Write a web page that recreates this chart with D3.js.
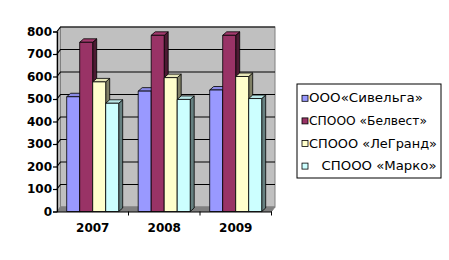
<!DOCTYPE html>
<html>
<head>
<meta charset="utf-8">
<script src="https://cdn.jsdelivr.net/npm/d3@7"></script>
<style>
  body { margin: 0; background: #fff; }
</style>
</head>
<body>
<div id="chart"></div>
<script>
// --- data ---
const categories = ["2007", "2008", "2009"];
const series = ["ООО«Сивельга»", "СПООО «Белвест»", "СПООО «ЛеГранд»", "СПООО  «Марко»"];
const values = [
  [510, 535, 540],   // Сивельга
  [752, 783, 783],   // Белвест
  [576, 595, 600],   // ЛеГранд
  [481, 498, 502]    // Марко
];
const yTicks = [0, 100, 200, 300, 400, 500, 600, 700, 800];

const colors = ["#9999ff", "#993366", "#ffffcc", "#ccffff"];
const sideColors = ["#4d4d80", "#4d1a33", "#808066", "#668080"];
const topColors = ["#8a8ae6", "#a33a6e", "#e6e6b8", "#b8e6e6"];

// --- layout ---
const W = 449, H = 260;
const svg = d3.select("#chart").append("svg")
  .attr("width", W).attr("height", H)
  .style("font-family", "'DejaVu Sans', sans-serif");

const x0 = d3.scaleBand().domain(categories).range([57, 271.5]);
const x1 = d3.scaleBand().domain(series).range([9.7, 61.7]);
const y = d3.scaleLinear().domain([0, 800]).range([211.5, 31.5]);

const wdx = 3.5, wdy = -4.5;   // wall depth
const bdx = 4, bdy = -3.5;     // bar depth
const left = x0.range()[0], right = x0.range()[1];
const y0 = y(0), yTop = y(800);

// --- walls and floor ---
svg.append("polygon")
  .attr("points", [[left, y0], [left, yTop], [left + wdx, yTop + wdy], [left + wdx, y0 + wdy]].join(" "))
  .attr("fill", "#c0c0c0").attr("stroke", "#808080");

svg.append("rect")
  .attr("x", left + wdx).attr("y", yTop + wdy)
  .attr("width", right - left).attr("height", y0 - yTop)
  .attr("fill", "#c0c0c0").attr("stroke", "#808080");

svg.append("polygon")
  .attr("points", [[left, y0], [right, y0], [right + wdx, y0 + wdy], [left + wdx, y0 + wdy]].join(" "))
  .attr("fill", "#808080").attr("stroke", "#808080");

// gridlines on side and back wall
const grid = svg.append("g");
yTicks.filter(t => t > 0).forEach(t => {
  grid.append("polyline")
    .attr("points", [[left, y(t)], [left + wdx, y(t) + wdy], [right + wdx, y(t) + wdy]].join(" "))
    .attr("fill", "none").attr("stroke", "#000").attr("stroke-width", 1.2);
});

// --- bars ---
categories.forEach((c, ci) => {
  series.forEach((s, si) => {
    const v = values[si][ci];
    const bx = x0(c) + x1(s), bw = x1.bandwidth();
    const by = y(v);
    const g = svg.append("g").attr("stroke", "#000").attr("stroke-width", 0.8).attr("stroke-linejoin", "round");
    g.append("polygon")
      .attr("points", [[bx + bw, by], [bx + bw + bdx, by + bdy], [bx + bw + bdx, y0 + bdy], [bx + bw, y0]].join(" "))
      .attr("fill", sideColors[si]);
    g.append("polygon")
      .attr("points", [[bx, by], [bx + bdx, by + bdy], [bx + bw + bdx, by + bdy], [bx + bw, by]].join(" "))
      .attr("fill", topColors[si]);
    g.append("rect")
      .attr("x", bx).attr("y", by).attr("width", bw).attr("height", y0 - by)
      .attr("fill", colors[si]);
  });
});

// --- axes ---
const yAxis = svg.append("g")
  .attr("transform", `translate(${left},0)`)
  .call(d3.axisLeft(y).tickValues(yTicks).tickSize(4).tickPadding(1));
yAxis.select(".domain").attr("stroke", "#000").attr("stroke-width", 1.2);
yAxis.selectAll(".tick line").attr("stroke", "#000").attr("stroke-width", 1.2);
yAxis.selectAll("text")
  .attr("font-family", "'DejaVu Sans', sans-serif")
  .attr("font-size", 12).attr("font-weight", "bold").attr("fill", "#000");

const xAxis = svg.append("g")
  .attr("transform", `translate(0,${y0})`)
  .call(d3.axisBottom(x0).tickSize(0).tickPadding(12).tickSizeOuter(0));
xAxis.select(".domain").attr("stroke", "#000").attr("stroke-width", 1.2);
xAxis.selectAll("text")
  .attr("font-family", "'DejaVu Sans', sans-serif")
  .attr("font-size", 12).attr("font-weight", "bold").attr("fill", "#000");

// boundary ticks between categories
xAxis.selectAll(".sep")
  .data(categories)
  .join("line")
  .attr("class", "sep")
  .attr("x1", d => x0(d) + x0.bandwidth()).attr("x2", d => x0(d) + x0.bandwidth())
  .attr("y1", 0).attr("y2", 4)
  .attr("stroke", "#000").attr("stroke-width", 1);

// --- legend ---
const legend = svg.append("g");
legend.append("rect")
  .attr("x", 297).attr("y", 84).attr("width", 144).attr("height", 94)
  .attr("fill", "#fff").attr("stroke", "#000");

const textLens = [114, 118, 128, 115];
const textX = [309, 309, 309, 321.5];
series.forEach((s, i) => {
  const cy = 98.3 + i * 22.6;
  legend.append("rect")
    .attr("x", 302).attr("y", cy - 3).attr("width", 6).attr("height", 6)
    .attr("fill", colors[i]).attr("stroke", "#000").attr("stroke-width", 0.8);
  legend.append("text")
    .attr("x", textX[i]).attr("y", cy + 4)
    .attr("font-size", 12)
    .attr("textLength", textLens[i])
    .attr("lengthAdjust", "spacingAndGlyphs")
    .text(s.trim());
});
</script>
</body>
</html>
